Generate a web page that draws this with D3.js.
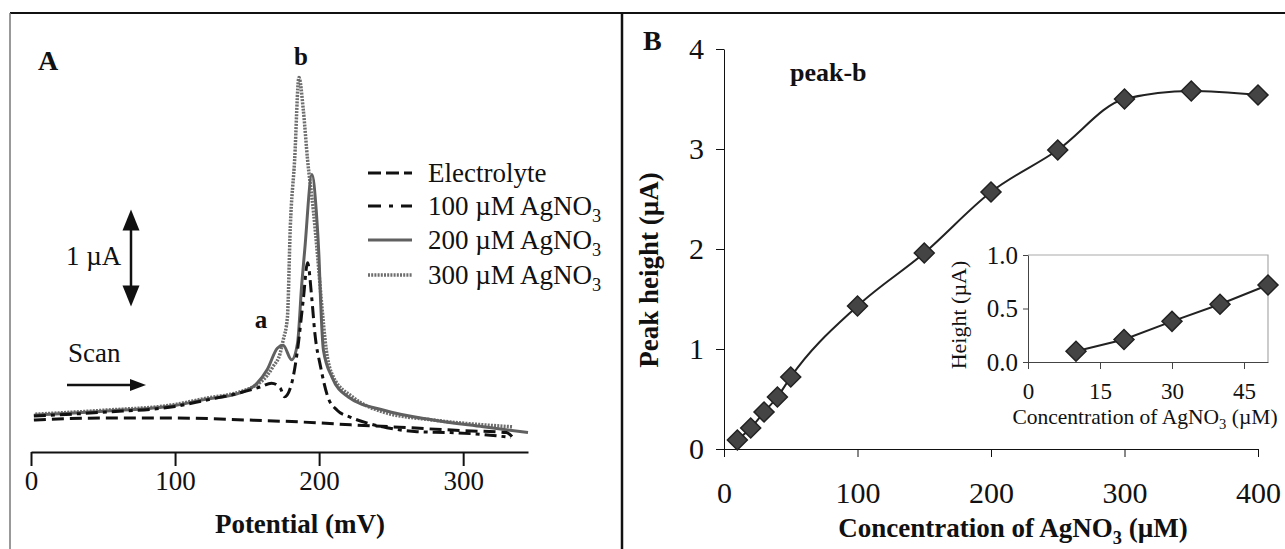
<!DOCTYPE html>
<html>
<head>
<meta charset="utf-8">
<script src="https://cdn.jsdelivr.net/npm/d3@7"></script>
<style>
  body { margin: 0; background: #fff; }
  svg { display: block; font-family: "Liberation Serif", "Times New Roman", serif; }
</style>
</head>
<body>
<svg id="chart" width="1285" height="549"></svg>
<script>
// ---- panel A: voltammograms (potential in mV, current in uA) ----
const mvElectrolyte = [2, 50, 100, 150, 200, 222, 250, 300, 330, 335];
const uaElectrolyte = [0.33, 0.35, 0.35, 0.33, 0.30, 0.28, 0.26, 0.22, 0.20, 0.14];

const mv100 = [2, 50, 100, 120, 145, 159, 167, 173, 176, 181, 185, 189, 192, 195, 197, 201, 206, 212.5, 221.5, 233, 247, 268, 291, 314, 333];
const ua100 = [0.37, 0.41, 0.47, 0.53, 0.61, 0.67, 0.71, 0.66, 0.57, 0.71, 1.05, 1.57, 1.95, 1.57, 1.23, 0.88, 0.57, 0.43, 0.36, 0.30, 0.25, 0.21, 0.20, 0.18, 0.15];

const mv200 = [2, 50, 100, 120, 145, 157, 164, 171, 175, 181, 185, 188, 190, 195, 198, 200, 201, 203, 209, 220, 245, 279, 314, 345];
const ua200 = [0.38, 0.42, 0.48, 0.54, 0.61, 0.71, 0.85, 1.07, 1.10, 0.95, 1.12, 1.74, 2.08, 2.86, 2.49, 1.98, 1.57, 1.05, 0.77, 0.57, 0.43, 0.33, 0.26, 0.20];

const mv300 = [3, 50, 100, 120, 145, 154, 164, 168, 173, 175, 178, 180, 183, 186, 189, 192, 196, 199, 201.5, 205, 210, 223, 245, 279, 314, 334];
const ua300 = [0.39, 0.43, 0.49, 0.55, 0.62, 0.67, 0.79, 0.88, 1.02, 1.15, 1.39, 2.32, 3.01, 3.86, 3.53, 3.01, 2.49, 2.01, 1.57, 1.05, 0.77, 0.57, 0.41, 0.33, 0.28, 0.26];

const potentialTicks = [0, 100, 200, 300];

// ---- panel B: peak-b height vs concentration ----
const concMain = [10, 20, 30, 40, 50, 100, 150, 200, 250, 300, 350, 400];
const peakMain = [0.09, 0.21, 0.37, 0.52, 0.72, 1.43, 1.96, 2.57, 2.99, 3.50, 3.58, 3.54];
const concTicks = [0, 100, 200, 300, 400];
const peakTicks = [0, 1, 2, 3, 4];

// inset (low concentrations)
const concInset = [10, 20, 30, 40, 50];
const peakInset = [0.10, 0.21, 0.38, 0.54, 0.72];
const insetConcTicks = [0, 15, 30, 45];
const insetPeakTicks = [0, 0.5, 1.0];

const FONT = '"Liberation Serif", "Times New Roman", serif';
const svg = d3.select("#chart");

// frame
svg.append("line").attr("x1", 10).attr("x2", 1285).attr("y1", 13).attr("y2", 13)
  .attr("stroke", "#111").attr("stroke-width", 2);
svg.append("line").attr("x1", 10).attr("x2", 10).attr("y1", 13).attr("y2", 549)
  .attr("stroke", "#777").attr("stroke-width", 1.5);
svg.append("line").attr("x1", 622).attr("x2", 622).attr("y1", 13).attr("y2", 549)
  .attr("stroke", "#111").attr("stroke-width", 2.5);

// helper for text with a subscript 3
function addSubText(g, x, y, before, sub, after, size, weight, anchor) {
  const t = g.append("text").attr("x", x).attr("y", y)
    .attr("font-size", size).attr("font-weight", weight || "normal")
    .attr("text-anchor", anchor || "start").attr("fill", "#111");
  t.append("tspan").text(before);
  t.append("tspan").attr("font-size", size * 0.68).attr("dy", size * 0.25).text(sub);
  if (after) t.append("tspan").attr("dy", -size * 0.25).text(after);
  return t;
}

// ================= Panel A =================
const xA = d3.scaleLinear().domain([0, 345]).range([31, 528]);
const yA = d3.scaleLinear().domain([0, 4]).range([452, 64]);

const seriesA = [
  { mv: mv300, ua: ua300, color: "#6e6e6e", dash: "2,1.2", width: 3.5, label: "300 µM AgNO" },
  { mv: mv200, ua: ua200, color: "#606060", dash: null, width: 3, label: "200 µM AgNO" },
  { mv: mvElectrolyte, ua: uaElectrolyte, color: "#111", dash: "12,6", width: 3, label: "Electrolyte" },
  { mv: mv100, ua: ua100, color: "#111", dash: "12,5,4,5", width: 3, label: "100 µM AgNO" }
];

const lineA = d3.line().x(d => xA(d[0])).y(d => yA(d[1])).curve(d3.curveMonotoneX);

const gA = svg.append("g");
seriesA.forEach(s => {
  gA.append("path")
    .datum(s.mv.map((v, i) => [v, s.ua[i]]))
    .attr("d", lineA)
    .attr("fill", "none")
    .attr("stroke", s.color)
    .attr("stroke-width", s.width)
    .attr("stroke-dasharray", s.dash);
});

const gxA = gA.append("g").attr("transform", "translate(0,452)")
  .call(d3.axisBottom(xA).tickValues(potentialTicks).tickSize(14).tickSizeOuter(0));
gxA.attr("font-family", FONT).attr("font-size", 27);
gxA.select(".domain").attr("stroke", "#111").attr("stroke-width", 2);
gxA.selectAll(".tick line").attr("stroke", "#111").attr("stroke-width", 2);
gxA.selectAll(".tick text").attr("y", 38).attr("dy", null).attr("fill", "#111");

gA.append("text").attr("x", 300).attr("y", 533).attr("text-anchor", "middle")
  .attr("font-size", 27).attr("font-weight", "bold").attr("fill", "#111").text("Potential (mV)");

gA.append("text").attr("x", 38).attr("y", 70).attr("font-size", 28)
  .attr("font-weight", "bold").attr("fill", "#111").text("A");
gA.append("text").attr("x", 301).attr("y", 65).attr("text-anchor", "middle").attr("font-size", 25)
  .attr("font-weight", "bold").attr("fill", "#111").text("b");
gA.append("text").attr("x", 261).attr("y", 328).attr("text-anchor", "middle").attr("font-size", 25)
  .attr("font-weight", "bold").attr("fill", "#111").text("a");

// 1 uA scale bar (double arrow)
const barTop = yA(2.5), barBot = yA(1.5);
gA.append("line").attr("x1", 131).attr("x2", 131).attr("y1", barTop + 15).attr("y2", barBot - 15)
  .attr("stroke", "#111").attr("stroke-width", 2.5);
gA.append("path").attr("fill", "#111")
  .attr("d", `M131,${barTop} L122.5,${barTop + 21} L139.5,${barTop + 21} Z`);
gA.append("path").attr("fill", "#111")
  .attr("d", `M131,${barBot} L122.5,${barBot - 21} L139.5,${barBot - 21} Z`);
gA.append("text").attr("x", 66).attr("y", 265).attr("font-size", 27).attr("fill", "#111").text("1 µA");

// scan direction
gA.append("text").attr("x", 68).attr("y", 362).attr("font-size", 27).attr("fill", "#111").text("Scan");
gA.append("line").attr("x1", 67).attr("x2", 132).attr("y1", 385).attr("y2", 385)
  .attr("stroke", "#111").attr("stroke-width", 2.5);
gA.append("path").attr("fill", "#111").attr("d", "M146,385 L130,379 L130,391 Z");

// legend
const legendOrder = [seriesA[2], seriesA[3], seriesA[1], seriesA[0]];
const legendDash = ["13,5", "13,8,4,8", null, "2,1.2"];
const legendY = [173, 206, 240, 275];
legendOrder.forEach((s, i) => {
  const y = legendY[i];
  gA.append("line").attr("x1", 368).attr("x2", 412).attr("y1", y).attr("y2", y)
    .attr("stroke", s.color).attr("stroke-width", s.width).attr("stroke-dasharray", legendDash[i]);
  if (s.label === "Electrolyte") {
    gA.append("text").attr("x", 428).attr("y", y + 9).attr("font-size", 27).attr("fill", "#111").text(s.label);
  } else {
    addSubText(gA, 428, y + 9, s.label, "3", null, 27);
  }
});

// ================= Panel B =================
const xB = d3.scaleLinear().domain([0, 400]).range([724, 1258]);
const yB = d3.scaleLinear().domain([0, 4]).range([449, 49]);
const gB = svg.append("g");

const gyB = gB.append("g").attr("transform", "translate(724,0)")
  .call(d3.axisLeft(yB).tickValues(peakTicks).tickFormat(d3.format("d")).tickSize(8).tickSizeOuter(0));
gyB.attr("font-family", FONT).attr("font-size", 30);
gyB.selectAll("path, line").attr("stroke", "#111");
gyB.selectAll(".tick text").attr("x", -20).attr("fill", "#111");

const gxB = gB.append("g").attr("transform", "translate(0,449)")
  .call(d3.axisBottom(xB).tickValues(concTicks).tickFormat(d3.format("d")).tickSize(8).tickSizeOuter(0));
gxB.attr("font-family", FONT).attr("font-size", 30);
gxB.selectAll("path, line").attr("stroke", "#111");
gxB.selectAll(".tick text").attr("y", 54).attr("dy", null).attr("fill", "#111");

const lineB = d3.line().x(d => xB(d[0])).y(d => yB(d[1])).curve(d3.curveMonotoneX);
const mainData = concMain.map((c, i) => [c, peakMain[i]]);
gB.append("path").datum(mainData).attr("d", lineB)
  .attr("fill", "none").attr("stroke", "#222").attr("stroke-width", 2);

const diamond = d3.symbol().type(d3.symbolSquare).size(200);
gB.selectAll(".pt-main").data(mainData).join("path")
  .attr("class", "pt-main")
  .attr("d", diamond)
  .attr("transform", d => `translate(${xB(d[0])},${yB(d[1])}) rotate(45)`)
  .attr("fill", "#444").attr("stroke", "#222").attr("stroke-width", 1.5);

gB.append("text").attr("x", 643).attr("y", 50).attr("font-size", 28)
  .attr("font-weight", "bold").attr("fill", "#111").text("B");
gB.append("text").attr("x", 790).attr("y", 81).attr("font-size", 26)
  .attr("font-weight", "bold").attr("fill", "#111").text("peak-b");

gB.append("text").attr("transform", "translate(658,270) rotate(-90)").attr("text-anchor", "middle")
  .attr("font-size", 27).attr("font-weight", "bold").attr("fill", "#111").text("Peak height (µA)");
addSubText(gB, 1013, 537, "Concentration of AgNO", "3", " (µM)", 27, "bold", "middle");

// ---- inset ----
const xI = d3.scaleLinear().domain([0, 50]).range([1028, 1268]);
const yI = d3.scaleLinear().domain([0, 1]).range([362, 255]);
const gI = gB.append("g");

gI.append("path").attr("fill", "none").attr("stroke", "#aaa").attr("stroke-width", 1.2)
  .attr("d", `M${xI(0)},${yI(1)} H${xI(50)} V${yI(0)}`);

const gyI = gI.append("g").attr("transform", `translate(${xI(0)},0)`)
  .call(d3.axisLeft(yI).tickValues(insetPeakTicks).tickFormat(d3.format(".1f")).tickSize(5).tickSizeOuter(0));
gyI.attr("font-family", FONT).attr("font-size", 25);
gyI.selectAll("path, line").attr("stroke", "#444");
gyI.selectAll(".tick text").attr("x", -10).attr("fill", "#111");

const gxI = gI.append("g").attr("transform", `translate(0,${yI(0)})`)
  .call(d3.axisBottom(xI).tickValues(insetConcTicks).tickSize(7).tickSizeOuter(0));
gxI.attr("font-family", FONT).attr("font-size", 23);
gxI.selectAll("path, line").attr("stroke", "#444");
gxI.selectAll(".tick text").attr("y", 37).attr("dy", null).attr("fill", "#111");

const lineI = d3.line().x(d => xI(d[0])).y(d => yI(d[1]));
const insetData = concInset.map((c, i) => [c, peakInset[i]]);
gI.append("path").datum(insetData).attr("d", lineI)
  .attr("fill", "none").attr("stroke", "#222").attr("stroke-width", 2);
gI.selectAll(".pt-inset").data(insetData).join("path")
  .attr("class", "pt-inset")
  .attr("d", diamond)
  .attr("transform", d => `translate(${xI(d[0])},${yI(d[1])}) rotate(45)`)
  .attr("fill", "#444").attr("stroke", "#222").attr("stroke-width", 1.5);

gI.append("text").attr("transform", "translate(966,315) rotate(-90)").attr("text-anchor", "middle")
  .attr("font-size", 22).attr("fill", "#111").text("Height (µA)");
addSubText(gI, 1145, 424, "Concentration of AgNO", "3", " (µM)", 21.5, "normal", "middle");
</script>
</body>
</html>
